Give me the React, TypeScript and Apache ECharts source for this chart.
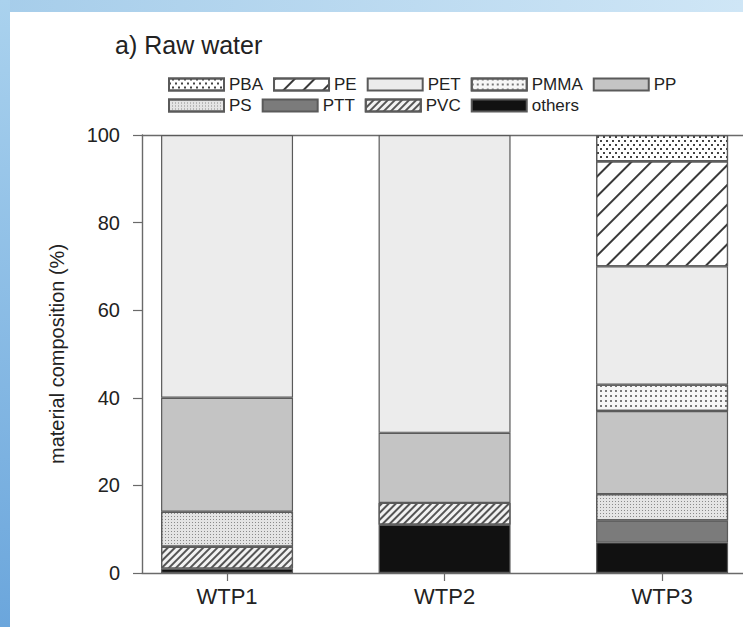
import React, { useEffect, useRef } from 'react';
import * as echarts from 'echarts';

// ---- data ----
const categories = ['WTP1', 'WTP2', 'WTP3'];
const PBA = [0, 0, 6];
const PE = [0, 0, 24];
const PET = [60, 68, 27];
const PMMA = [0, 0, 6];
const PP = [26, 16, 19];
const PS = [8, 0, 6];
const PTT = [0, 0, 5];
const PVC = [5, 5, 0];
const others = [1, 11, 7];
const yTicks = [0, 20, 40, 60, 80, 100];
const legendRow1 = ['PBA', 'PE', 'PET', 'PMMA', 'PP'];
const legendRow2 = ['PS', 'PTT', 'PVC', 'others'];

// bottom-to-top stacking order
const stackOrder: [string, number[]][] = [
  ['others', others],
  ['PVC', PVC],
  ['PTT', PTT],
  ['PS', PS],
  ['PP', PP],
  ['PMMA', PMMA],
  ['PET', PET],
  ['PE', PE],
  ['PBA', PBA],
];

// ---- styles ----
const styles: Record<string, any> = {
  PBA: {
    color: '#ffffff',
    decal: {
      symbol: 'rect', symbolSize: 1, color: '#444',
      dashArrayX: [[1.5, 3.5], [0, 2.5, 1.5, 1]], dashArrayY: [1.5, 1.5],
    },
  },
  PE: {
    color: '#ffffff',
    decal: {
      symbol: 'rect', symbolSize: 1, color: '#3a3a3a',
      dashArrayX: [1, 0], dashArrayY: [1.1, 12], rotation: -Math.PI / 4,
    },
  },
  PET: { color: '#ececec' },
  PMMA: {
    color: '#f6f6f6',
    decal: {
      symbol: 'rect', symbolSize: 1, color: '#777',
      dashArrayX: [1.2, 3], dashArrayY: [1.2, 2.2],
    },
  },
  PP: { color: '#c4c4c4' },
  PS: {
    color: '#e4e4e4',
    decal: {
      symbol: 'rect', symbolSize: 1, color: '#8a8a8a',
      dashArrayX: [1, 2], dashArrayY: [1, 2],
    },
  },
  PTT: { color: '#7b7b7b' },
  PVC: {
    color: '#f2f2f2',
    decal: {
      symbol: 'rect', symbolSize: 1, color: '#555',
      dashArrayX: [1, 0], dashArrayY: [1.3, 2.1], rotation: -Math.PI / 4,
    },
  },
  others: { color: '#111111' },
};

const FONT = 'Liberation Sans, Arial, sans-serif';

export default function App() {
  const ref = useRef<HTMLDivElement>(null);
  useEffect(() => {
    if (!ref.current) return;
    const chart = echarts.init(ref.current, null, { renderer: 'svg' });
    const xMin = 0.609;
    const xMax = 3.372;
    const series = stackOrder.map(([name, vals]) => ({
      name,
      type: 'bar',
      stack: 'total',
      barWidth: 132,
      // value first so that the stack is computed on the y (value) dimension
      encode: { x: 1, y: 0 },
      data: vals.map((v, i) => [v === 0 ? '-' : v, i + 1]),
      itemStyle: {
        ...styles[name],
        borderColor: '#5a5a5a',
        borderWidth: 1.2,
      },
      emphasis: { disabled: true },
    }));
    const legendBase = {
      orient: 'horizontal',
      icon: 'rect',
      itemWidth: 55,
      itemHeight: 12,
      itemGap: 10,
      selectedMode: false,
      textStyle: { fontFamily: FONT, fontSize: 17, color: '#222' },
    };
    chart.setOption({
      animation: false,
      backgroundColor: '#ffffff',
      textStyle: { fontFamily: FONT },
      graphic: [
        {
          type: 'rect', left: 0, top: 0, z: -10,
          shape: { width: 743, height: 12 },
          style: {
            fill: new echarts.graphic.LinearGradient(0, 0, 1, 0, [
              { offset: 0, color: '#a6cdea' },
              { offset: 1, color: '#cfe6f6' },
            ]),
          },
        },
        {
          type: 'rect', left: 0, top: 0, z: -10,
          shape: { width: 10, height: 627 },
          style: {
            fill: new echarts.graphic.LinearGradient(0, 0, 0, 1, [
              { offset: 0, color: '#aad2ee' },
              { offset: 1, color: '#6ba6dc' },
            ]),
          },
        },
      ],
      title: {
        text: 'a) Raw water',
        left: 110,
        top: 27,
        textStyle: { fontFamily: FONT, fontSize: 25, fontWeight: 'normal', color: '#222' },
      },
      legend: [
        { ...legendBase, data: legendRow1, left: 163, top: 71 },
        { ...legendBase, data: legendRow2, left: 163, top: 92 },
      ],
      grid: { left: 142, top: 135, right: 0, bottom: 54, containLabel: false },
      xAxis: [
        {
          type: 'value',
          min: xMin,
          max: xMax,
          position: 'bottom',
          axisLine: { show: true, lineStyle: { color: '#6a6a6a', width: 1.4 } },
          axisTick: { show: true, customValues: [1, 2, 3], length: 8, lineStyle: { color: '#6a6a6a', width: 1.2 } },
          axisLabel: {
            customValues: [1, 2, 3],
            formatter: (v: number) => categories[Math.round(v) - 1] ?? '',
            fontSize: 22,
            color: '#222',
            fontFamily: FONT,
            margin: 12,
          },
          splitLine: { show: false },
        },
        {
          type: 'value',
          min: xMin,
          max: xMax,
          position: 'top',
          axisLine: { show: true, onZero: false, lineStyle: { color: '#6a6a6a', width: 1.4 } },
          axisTick: { show: false },
          axisLabel: { show: false },
          splitLine: { show: false },
        },
      ],
      yAxis: {
        type: 'value',
        min: yTicks[0],
        max: yTicks[yTicks.length - 1],
        interval: 20,
        name: 'material composition (%)',
        nameLocation: 'middle',
        nameGap: 75,
        nameTextStyle: { fontFamily: FONT, fontSize: 20, color: '#222' },
        axisLine: { show: true, lineStyle: { color: '#6a6a6a', width: 1.4 } },
        axisTick: { show: true, length: 9, lineStyle: { color: '#6a6a6a', width: 1.2 } },
        axisLabel: { fontSize: 20, color: '#222', fontFamily: FONT, margin: 22 },
        splitLine: { show: false },
      },
      series,
    });
    return () => chart.dispose();
  }, []);
  return (
    <div
      ref={ref}
      style={{ position: 'fixed', left: 0, top: 0, width: 743, height: 627 }}
    />
  );
}
